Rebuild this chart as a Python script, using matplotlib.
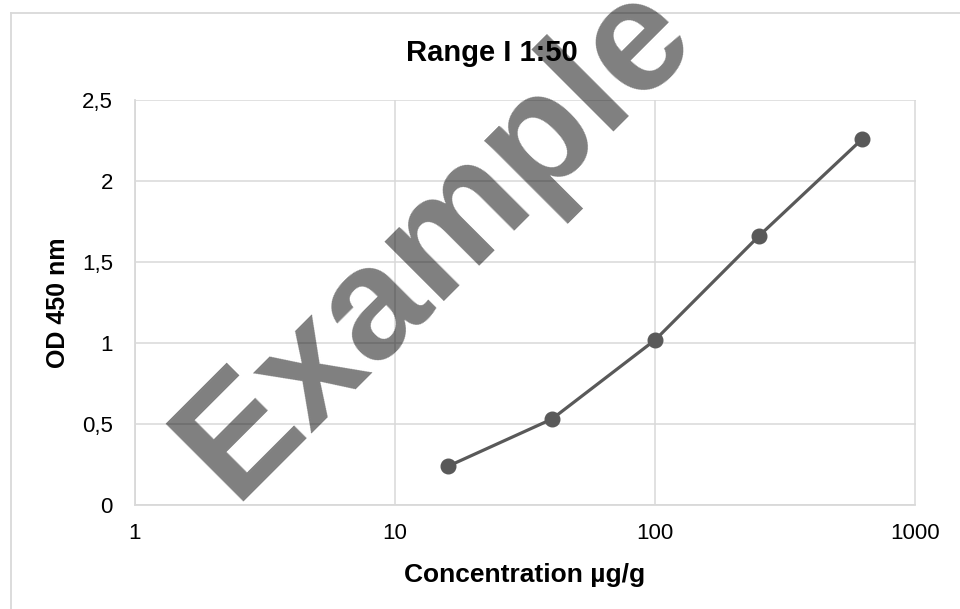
import matplotlib
matplotlib.use("Agg")
import matplotlib.pyplot as plt
from matplotlib.lines import Line2D
from matplotlib.ticker import FixedLocator, FixedFormatter, NullLocator

# data
conc = [16, 40, 100, 250, 625]
od = [0.24, 0.53, 1.02, 1.66, 2.26]
xticks = [1, 10, 100, 1000]
xtick_labels = ["1", "10", "100", "1000"]
yticks = [0, 0.5, 1, 1.5, 2, 2.5]
ytick_labels = ["0", "0,5", "1", "1,5", "2", "2,5"]

plt.rcParams['font.family'] = ['Liberation Sans', 'DejaVu Sans']

W, H = 960, 609
fig = plt.figure(figsize=(9.6, 6.09), dpi=100)
ax = fig.add_axes([135 / W, 1 - 505 / H, (915.5 - 135) / W, (505 - 100) / H])

grid_col = '#d9d9d9'
line_col = '#595959'

ax.plot(conc, od, color=line_col, lw=2.3, marker='o', markersize=10.5, zorder=3)

ax.set_xscale('log')
ax.set_xlim(1, 1000)
ax.set_ylim(0, 2.5)
ax.xaxis.set_major_locator(FixedLocator(xticks))
ax.xaxis.set_major_formatter(FixedFormatter(xtick_labels))
ax.xaxis.set_minor_locator(NullLocator())
ax.yaxis.set_major_locator(FixedLocator(yticks))
ax.yaxis.set_major_formatter(FixedFormatter(ytick_labels))
ax.tick_params(axis='both', length=0, labelsize=16, colors='#000000')
ax.tick_params(axis='x', pad=13)
ax.tick_params(axis='y', pad=16)
ax.grid(True, color=grid_col, lw=1.1)
ax.set_axisbelow(True)
for s in ['top', 'right']:
    ax.spines[s].set_visible(False)
for s in ['left', 'bottom']:
    ax.spines[s].set_color(grid_col)
    ax.spines[s].set_linewidth(1.3)

fig.text(492 / W, 1 - 61 / H, "Range I 1:50", ha='center', va='baseline',
         fontsize=21, fontweight='bold')
fig.text(525 / W, 1 - 582 / H, "Concentration µg/g", ha='center', va='baseline',
         fontsize=19, fontweight='bold')
fig.text(58 / W, 1 - 303 / H, "OD 450 nm", ha='center', va='center',
         fontsize=18, fontweight='bold', rotation=90)

# chart area border (only top and left visible in the crop)
fig.add_artist(Line2D([11 / W, 11 / W], [-0.1, 1 - 13 / H], color=grid_col, lw=1.3))
fig.add_artist(Line2D([11 / W, 1.1], [1 - 13 / H, 1 - 13 / H], color=grid_col, lw=1.3))

# watermark
fig.text(233 / W, 1 - 502 / H, "Example", ha='left', va='baseline',
         fontsize=115, fontweight='bold', rotation=45, color='black', alpha=0.5,
         rotation_mode='anchor', zorder=10)

fig.savefig("out.png", dpi=100)
